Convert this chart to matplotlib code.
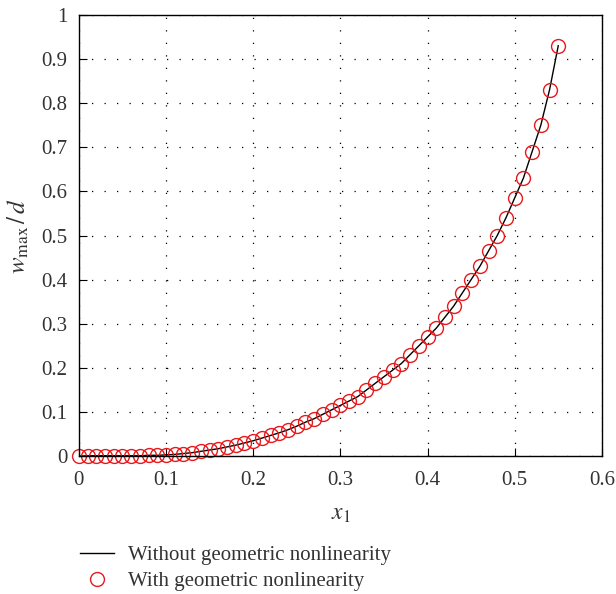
import numpy as np
import matplotlib
matplotlib.use("Agg")
from matplotlib import pyplot as plt

# data
x1 = np.round(np.arange(0, 0.551, 0.01), 2)
w_ratio = [0.000, 0.001, 0.001, 0.001, 0.001, 0.001, 0.001, 0.001, 0.002, 0.002,
           0.003, 0.004, 0.006, 0.008, 0.011, 0.014, 0.017, 0.021, 0.025, 0.030,
           0.035, 0.041, 0.047, 0.053, 0.060, 0.068, 0.077, 0.085, 0.095, 0.105,
           0.115, 0.125, 0.135, 0.150, 0.165, 0.180, 0.195, 0.210, 0.230, 0.250,
           0.270, 0.290, 0.315, 0.340, 0.370, 0.400, 0.430, 0.465, 0.500, 0.540,
           0.585, 0.630, 0.690, 0.750, 0.830, 0.930]

xticks = [0, 0.1, 0.2, 0.3, 0.4, 0.5, 0.6]
xtick_labels = ["0", "0.1", "0.2", "0.3", "0.4", "0.5", "0.6"]
yticks = np.round(np.arange(0, 1.01, 0.1), 1)
ytick_labels = ["0"] + ["%.1f" % v for v in yticks[1:-1]] + ["1"]

txt_col = '#333333'
plt.rcParams['font.family'] = ['Liberation Serif', 'DejaVu Serif']
plt.rcParams['mathtext.fontset'] = 'stix'

fig = plt.figure(figsize=(6.16, 5.94), dpi=100)
ax = fig.add_axes([0.128, 0.232, 0.849, 0.743])

line, = ax.plot(x1, w_ratio, color='black', lw=1.0)
pts, = ax.plot(x1, w_ratio, 'o', mfc='none', mec='#e8191c', mew=1.0, ms=10, clip_on=False)

ax.set_xlim(0, 0.6)
ax.set_ylim(0, 1)
ax.set_xticks(xticks)
ax.set_xticklabels(xtick_labels)
ax.set_yticks(yticks)
ax.set_yticklabels(ytick_labels)
ax.tick_params(direction='in', labelsize=15, length=6, pad=8, labelcolor=txt_col)
ax.tick_params(axis='x', pad=11)
ax.grid(True, color='black', linestyle=(0, (1, 9)), lw=0.9)
for s in ax.spines.values():
    s.set_linewidth(1.0)

ax.set_xlabel(r'$x_1$', fontsize=17, labelpad=10, color=txt_col)
ax.set_ylabel(r'$w_{\max}\,/\,d$', fontsize=18, labelpad=8, color=txt_col)

leg = fig.legend([line, pts], ['Without geometric nonlinearity', 'With geometric nonlinearity'],
                 loc='lower left', bbox_to_anchor=(0.1, -0.027), frameon=False, fontsize=15,
                 handlelength=1.6, handletextpad=0.7, labelspacing=0.3)
for t in leg.get_texts():
    t.set_color(txt_col)

fig.savefig('out.png', dpi=100)
